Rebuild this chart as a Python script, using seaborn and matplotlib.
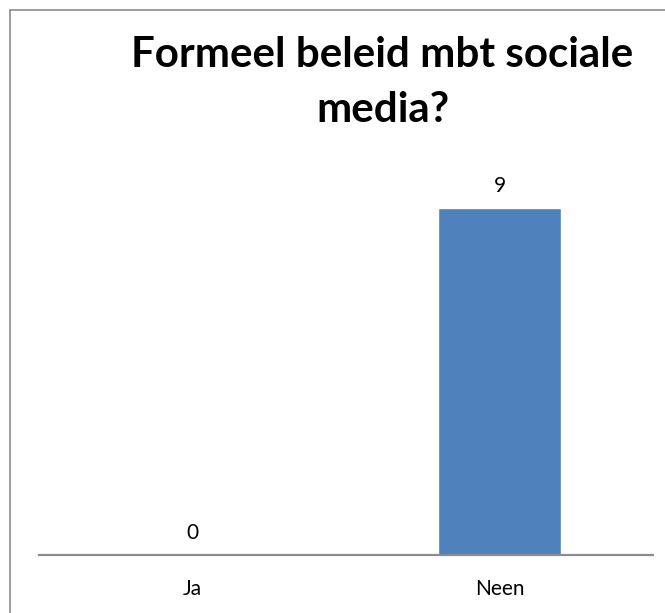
import matplotlib
matplotlib.use("Agg")
import matplotlib.pyplot as plt
import seaborn as sns
import pandas as pd
from matplotlib.lines import Line2D

categories = ["Ja", "Neen"]
values = [0, 9]
title_lines = ["Formeel beleid mbt sociale", "media?"]

sns.set_theme(style="white")
plt.rcParams['font.family'] = ['Lato', 'DejaVu Sans']

W, H = 665, 613
fig = plt.figure(figsize=(W / 100, H / 100), dpi=100)
fig.patch.set_facecolor("white")

# outer chart border: top and left edges (right/bottom fall outside the image)
border_col = "#8c8c8c"
fig.lines.append(Line2D([10 / W, 1.0], [1 - 10 / H, 1 - 10 / H],
                        transform=fig.transFigure, color=border_col, linewidth=1.2))
fig.lines.append(Line2D([10 / W, 10 / W], [0.0, 1 - 10 / H],
                        transform=fig.transFigure, color=border_col, linewidth=1.2))

left, right = 39, 653
base, top = 555, 169
ax = fig.add_axes([left / W, (H - base) / H, (right - left) / W, (base - top) / H])

df = pd.DataFrame({"cat": categories, "val": values})
sns.barplot(data=df, x="cat", y="val", color="#4f81bd", width=0.4,
            saturation=1, ax=ax)
ax.set_ylim(0, 10)
ax.set_xlim(-0.5, 1.5)
ax.set_xlabel("")
ax.set_ylabel("")
ax.set_yticks([])
for s in ["top", "right", "left"]:
    ax.spines[s].set_visible(False)
ax.spines["bottom"].set_color("#8c8c8c")
ax.spines["bottom"].set_linewidth(1.6)
ax.tick_params(axis="x", length=0, pad=17, labelsize=15, colors="black")
ax.set_facecolor("none")

for i, v in enumerate(values):
    ax.annotate(str(v), (i, v), xytext=(0, 8.5), textcoords="offset points",
                ha="center", va="bottom", fontsize=15, color="black")

tx = 382.5 / W
fig.text(tx, 1 - 67 / H, title_lines[0], ha="center", va="baseline",
         fontsize=30.3, fontweight="bold", color="black")
fig.text(tx, 1 - 122 / H, title_lines[1], ha="center", va="baseline",
         fontsize=30.3, fontweight="bold", color="black")

fig.savefig("out.png", dpi=100)
